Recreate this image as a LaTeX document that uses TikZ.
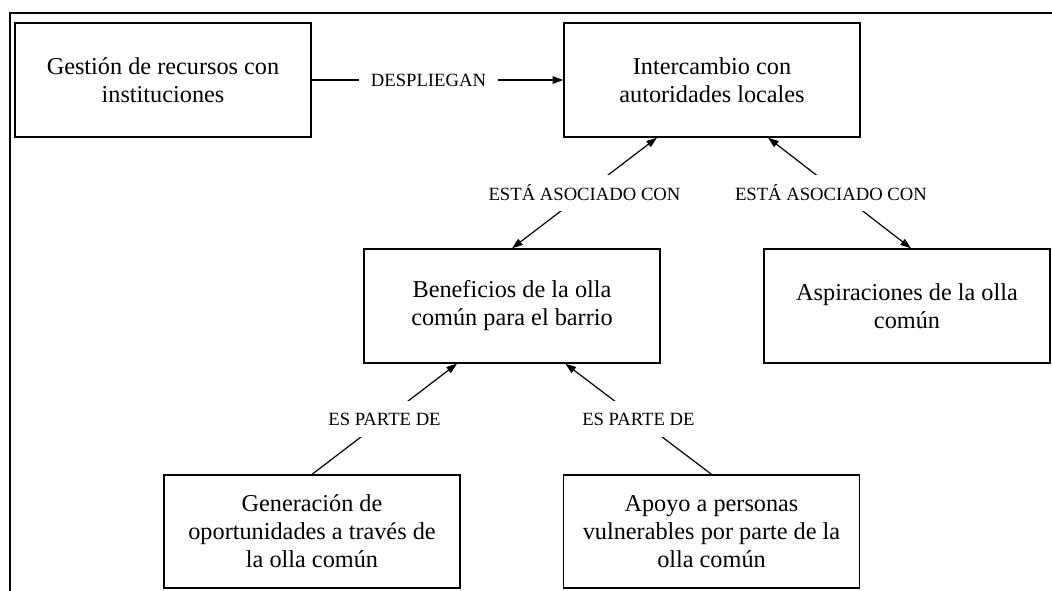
\documentclass[tikz,border=0pt]{standalone}
\usepackage{fontspec}
\setmainfont{Liberation Serif}
\usetikzlibrary{arrows.meta}
\begin{document}
\begin{tikzpicture}[x=0.75pt,y=-0.75pt,
  >={Triangle[length=8pt,width=5.5pt]},
  box/.style={draw, line width=1pt, align=center, inner sep=0pt,
    font=\fontsize{18.2}{21}\selectfont, minimum width=222pt, minimum height=85.5pt},
  lab/.style={fill=white, inner xsep=0pt, minimum height=27pt,
    font=\fontsize{14}{16}\selectfont},
  conn/.style={line width=0.9pt}]
\useasboundingbox (0,0) rectangle (1052,590);
\draw[line width=1.5pt] (10,593) -- (10,13) -- (1055,13);

\node[box] (b1) at (163,80) {Gestión de recursos con\\instituciones};
\node[box] (b2) at (712,80) {Intercambio con\\autoridades locales};
\node[box] (b3) at (512,306) {Beneficios de la olla\\común para el barrio};
\node[box, minimum width=214.5pt] (b4) at (907,306) {Aspiraciones de la olla\\común};
\node[box, minimum height=84.75pt] (b5) at (312,531.5) {Generación de\\oportunidades a través de\\la olla común};
\node[box, minimum height=84.75pt] (b6) at (711.5,531.5) {Apoyo a personas\\vulnerables por parte de la\\olla común};

\draw[conn,->] (b1.east) -- node[lab, pos=0.464, inner xsep=9pt] {DESPLIEGAN} (b2.west);
\draw[conn,<->] ([xshift=-41.25pt]b2.south) -- node[lab] {ESTÁ ASOCIADO CON} (b3.north);
\draw[conn,<->] ([xshift=42pt]b2.south) -- node[lab, xshift=-6.4pt] {ESTÁ ASOCIADO CON} ([xshift=3pt]b4.north);
\draw[conn,->] (b5.north) -- node[lab] {ES PARTE DE} ([xshift=-41.25pt]b3.south);
\draw[conn,->] (b6.north) -- node[lab] {ES PARTE DE} ([xshift=40pt]b3.south);
\end{tikzpicture}
\end{document}
